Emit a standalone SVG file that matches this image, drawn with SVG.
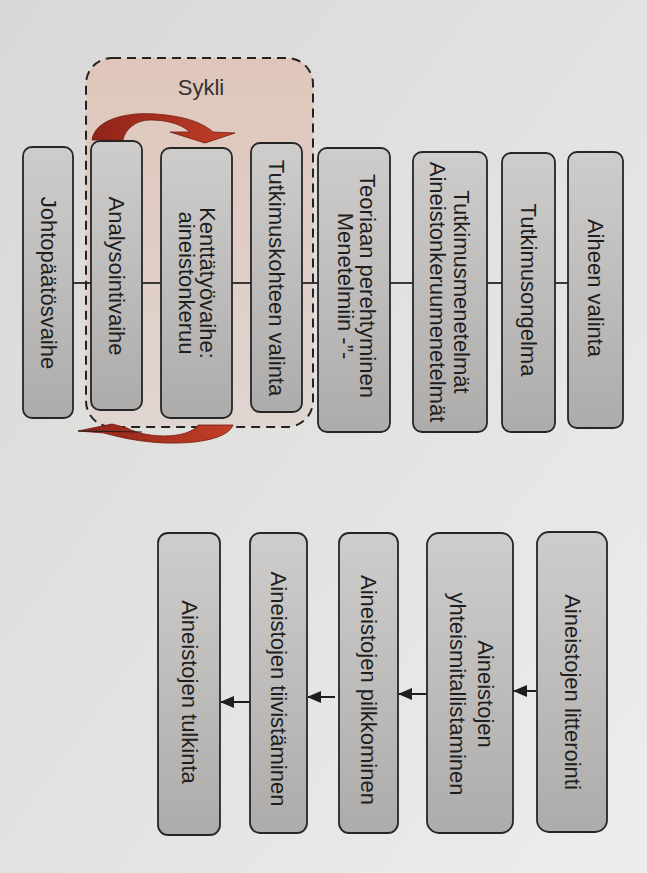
<svg xmlns="http://www.w3.org/2000/svg" width="647" height="873" viewBox="0 0 647 873">
<defs>
<linearGradient id="bg" x1="0" y1="0" x2="1" y2="1">
<stop offset="0" stop-color="#d9d8d6"/>
<stop offset="0.5" stop-color="#e2e2e0"/>
<stop offset="1" stop-color="#ededeb"/>
</linearGradient>
<linearGradient id="boxg" x1="0" y1="0" x2="0" y2="1">
<stop offset="0" stop-color="#cfcdcb"/>
<stop offset="1" stop-color="#aeacaa"/>
</linearGradient>
<linearGradient id="cyc" x1="0" y1="0" x2="0" y2="1">
<stop offset="0" stop-color="#e0c6ba"/>
<stop offset="1" stop-color="#dfd5d1"/>
</linearGradient>
<linearGradient id="red" x1="0" y1="0" x2="1" y2="0">
<stop offset="0" stop-color="#8f2418"/>
<stop offset="1" stop-color="#c23e27"/>
</linearGradient>
<marker id="ah" viewBox="0 0 14 12" refX="13" refY="6" markerWidth="14" markerHeight="12" markerUnits="userSpaceOnUse" orient="auto">
<path d="M0,0 L14,6 L0,12 Z" fill="#1e1e1e"/>
</marker>
</defs>
<style>
.box{fill:url(#boxg);stroke:#262626;stroke-width:1.8}
.t{font-family:"Liberation Sans",Arial,sans-serif;font-size:22px;fill:#1e1e1e;text-anchor:middle;dominant-baseline:central}
.ln{stroke:#262626;stroke-width:1.8;fill:none}
.ar{stroke:#1e1e1e;stroke-width:2;fill:none;marker-end:url(#ah)}
.red{fill:url(#red);stroke:#6e1a10;stroke-width:0.8}
</style>
<rect width="647" height="873" fill="url(#bg)"/>

<g id="cycle">
<rect x="86" y="58" width="227" height="369" rx="26" fill="url(#cyc)" stroke="#222" stroke-width="2" stroke-dasharray="9 6"/>
<text x="201" y="87" class="t" style="fill:#333">Sykli</text>
</g>

<g id="connectors">
<line class="ln" x1="73" y1="283" x2="91" y2="283"/>
<line class="ln" x1="142" y1="283" x2="161" y2="283"/>
<line class="ln" x1="232" y1="283" x2="251" y2="283"/>
<line class="ln" x1="302" y1="283" x2="318" y2="283"/>
<line class="ln" x1="390" y1="283" x2="413" y2="283"/>
<line class="ln" x1="487" y1="283" x2="502" y2="283"/>
<line class="ln" x1="555" y1="283" x2="568" y2="283"/>
<line class="ar" x1="536" y1="691" x2="514" y2="691"/>
<line class="ar" x1="427" y1="694" x2="399" y2="694"/>
<line class="ar" x1="335" y1="697" x2="308" y2="697"/>
<line class="ar" x1="250" y1="702" x2="221" y2="702"/>
<path id="arrow-top" class="red" d="M 92 140 C 95 118, 130 112, 155 114 C 185 116, 203 123, 213 132 L 235 133 L 205 143 L 170 132 L 190 132 C 180 123, 165 120, 150 120 C 135 120, 125 130, 123 140 Z"/>
<path id="arrow-bottom" class="red" d="M 233 425 C 228 438, 200 444, 165 443 C 140 442, 118 437, 104 433 L 78 431 L 112 424 L 127 428 C 150 440, 190 438, 198 425 Z"/>
<path d="M 78 431 L 142 432" stroke="#1e1e1e" stroke-width="1.2" fill="none"/>
</g>

<g id="n-aiheen"><rect class="box" x="568" y="152" width="55" height="276" rx="9"/><text class="t" transform="translate(595.5,288) rotate(90)">Aiheen valinta</text></g>
<g id="n-ongelma"><rect class="box" x="502" y="153" width="53" height="279" rx="9"/><text class="t" transform="translate(528.5,290) rotate(90)">Tutkimusongelma</text></g>
<g id="n-menetelmat"><rect class="box" x="413" y="152" width="74" height="280" rx="9"/><text class="t" transform="translate(450,292) rotate(90)"><tspan x="0" y="-12">Tutkimusmenetelmät</tspan><tspan x="0" y="12">Aineistonkeruumenetelmät</tspan></text></g>
<g id="n-teoriaan"><rect class="box" x="318" y="148" width="72" height="284" rx="9"/><text class="t" transform="translate(357,286) rotate(90)"><tspan x="0" y="-11">Teoriaan perehtyminen</tspan><tspan x="0" y="11">Menetelmiin -”-</tspan></text></g>
<g id="n-kohde"><rect class="box" x="251" y="143" width="51" height="269" rx="9"/><text class="t" transform="translate(276.5,278) rotate(90)">Tutkimuskohteen valinta</text></g>
<g id="n-kentta"><rect class="box" x="161" y="148" width="71" height="270" rx="9"/><text class="t" transform="translate(198,283) rotate(90)"><tspan x="0" y="-10">Kenttätyövaihe:</tspan><tspan x="0" y="11">aineistonkeruu</tspan></text></g>
<g id="n-analyysi"><rect class="box" x="91" y="141" width="51" height="269" rx="9"/><text class="t" transform="translate(116.5,276) rotate(90)">Analysointivaihe</text></g>
<g id="n-johto"><rect class="box" x="23" y="147" width="50" height="271" rx="9"/><text class="t" transform="translate(48,283) rotate(90)">Johtopäätösvaihe</text></g>

<g id="n-litterointi"><rect class="box" x="537" y="532" width="70" height="300" rx="12"/><text class="t" transform="translate(572,692) rotate(90)">Aineistojen litterointi</text></g>
<g id="n-yhteis"><rect class="box" x="427" y="533" width="86" height="300" rx="12"/><text class="t" transform="translate(472,694) rotate(90)"><tspan x="0" y="-14">Aineistojen</tspan><tspan x="0" y="14">yhteismitallistaminen</tspan></text></g>
<g id="n-pilkkominen"><rect class="box" x="339" y="533" width="59" height="300" rx="10"/><text class="t" transform="translate(368.5,690) rotate(90)">Aineistojen pilkkominen</text></g>
<g id="n-tiivistaminen"><rect class="box" x="250" y="533" width="57" height="300" rx="10"/><text class="t" transform="translate(278.5,689) rotate(90)">Aineistojen tiivistäminen</text></g>
<g id="n-tulkinta"><rect class="box" x="158" y="533" width="62" height="302" rx="10"/><text class="t" transform="translate(189,692) rotate(90)">Aineistojen tulkinta</text></g>
</svg>
